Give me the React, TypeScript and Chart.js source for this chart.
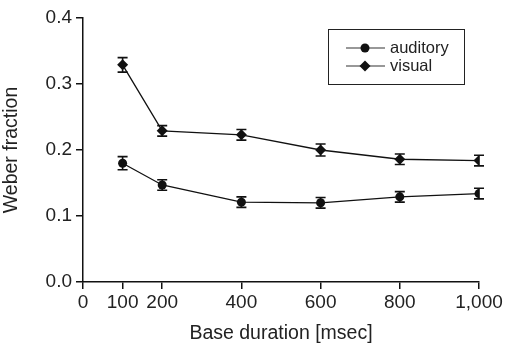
import React, { useEffect, useRef } from "react";
import { Chart, registerables } from "chart.js";

Chart.register(...registerables);

const durations = [100, 200, 400, 600, 800, 1000];
const auditory = [0.18, 0.147, 0.121, 0.12, 0.129, 0.134];
const auditoryErr = [0.01, 0.008, 0.008, 0.008, 0.008, 0.008];
const visual = [0.329, 0.229, 0.223, 0.2, 0.186, 0.184];
const visualErr = [0.011, 0.008, 0.008, 0.009, 0.008, 0.008];
const xTicks = [0, 100, 200, 400, 600, 800, 1000];
const seriesNames = ["auditory", "visual"];

const FONT = "'Liberation Sans', Arial, Helvetica, sans-serif";

const errorBarPlugin = {
  id: "errorBars",
  afterDatasetsDraw(chart: any) {
    const ctx = chart.ctx;
    const xs = chart.scales.x;
    const ys = chart.scales.y;
    const errs = [auditoryErr, visualErr];
    const vals = [auditory, visual];
    ctx.save();
    ctx.strokeStyle = "#111";
    ctx.lineWidth = 1.6;
    vals.forEach((arr, si) => {
      arr.forEach((v, i) => {
        const x = xs.getPixelForValue(durations[i]);
        const yt = ys.getPixelForValue(v + errs[si][i]);
        const yb = ys.getPixelForValue(v - errs[si][i]);
        ctx.beginPath();
        ctx.moveTo(x, yt);
        ctx.lineTo(x, yb);
        ctx.moveTo(x - 5, yt);
        ctx.lineTo(x + 5, yt);
        ctx.moveTo(x - 5, yb);
        ctx.lineTo(x + 5, yb);
        ctx.stroke();
      });
    });
    ctx.restore();
  },
};

const legendPlugin = {
  id: "boxLegend",
  afterDraw(chart: any) {
    const ctx = chart.ctx;
    ctx.save();
    ctx.strokeStyle = "#222";
    ctx.lineWidth = 1;
    ctx.strokeRect(328.5, 29.5, 136, 55);
    const rows = [48, 66];
    rows.forEach((y, i) => {
      ctx.strokeStyle = "#333";
      ctx.lineWidth = 1.2;
      ctx.beginPath();
      ctx.moveTo(346, y);
      ctx.lineTo(385, y);
      ctx.stroke();
      ctx.fillStyle = "#111";
      ctx.beginPath();
      if (i === 0) {
        ctx.arc(365, y, 4.5, 0, Math.PI * 2);
      } else {
        ctx.moveTo(365, y - 5.5);
        ctx.lineTo(370.5, y);
        ctx.lineTo(365, y + 5.5);
        ctx.lineTo(359.5, y);
        ctx.closePath();
      }
      ctx.fill();
      ctx.fillStyle = "#222";
      ctx.font = `16.5px ${FONT}`;
      ctx.textBaseline = "middle";
      ctx.textAlign = "left";
      ctx.fillText(seriesNames[i], 390, y);
    });
    ctx.restore();
  },
};

export default function App() {
  const ref = useRef<HTMLCanvasElement>(null);
  useEffect(() => {
    if (!ref.current) return;
    const chart = new Chart(ref.current, {
      type: "line",
      data: {
        datasets: [
          {
            label: seriesNames[0],
            data: durations.map((d, i) => ({ x: d, y: auditory[i] })),
            borderColor: "#111",
            backgroundColor: "#111",
            borderWidth: 1.3,
            pointStyle: "circle",
            pointRadius: 4.5,
            pointBorderWidth: 0,
            tension: 0,
          },
          {
            label: seriesNames[1],
            data: durations.map((d, i) => ({ x: d, y: visual[i] })),
            borderColor: "#111",
            backgroundColor: "#111",
            borderWidth: 1.3,
            pointStyle: "rectRot",
            pointRadius: 5.5,
            pointBorderWidth: 0,
            tension: 0,
          },
        ],
      },
      options: {
        animation: false,
        responsive: false,
        layout: { padding: { top: 18, right: 32, left: 0, bottom: 0 } },
        plugins: { legend: { display: false }, tooltip: { enabled: false } },
        scales: {
          x: {
            type: "linear",
            min: 0,
            max: 1000,
            afterBuildTicks: (s: any) => {
              s.ticks = xTicks.map((v) => ({ value: v }));
            },
            afterFit: (s: any) => {
              s.height = 63;
            },
            grid: { drawOnChartArea: false, drawTicks: true, tickLength: 7, color: "#111", lineWidth: 1.5 },
            border: { display: true, color: "#111", width: 1.5 },
            ticks: {
              autoSkip: false,
              maxRotation: 0,
              padding: 2,
              color: "#222",
              font: { family: FONT, size: 19 },
              callback: (v: any) => Number(v).toLocaleString("en-US"),
            },
            title: {
              display: true,
              text: "Base duration [msec]",
              color: "#222",
              font: { family: FONT, size: 19.5 },
              padding: { top: 2, bottom: 0 },
            },
          },
          y: {
            min: 0,
            max: 0.4,
            afterFit: (s: any) => {
              s.width = 83;
            },
            grid: { drawOnChartArea: false, drawTicks: true, tickLength: 7, color: "#111", lineWidth: 1.5 },
            border: { display: true, color: "#111", width: 1.5 },
            ticks: {
              stepSize: 0.1,
              padding: 4,
              color: "#222",
              font: { family: FONT, size: 19 },
              callback: (v: any) => Number(v).toFixed(1),
            },
            title: {
              display: true,
              text: "Weber fraction",
              color: "#222",
              font: { family: FONT, size: 19.5 },
              padding: { top: 0, bottom: 4 },
            },
          },
        },
      },
      plugins: [errorBarPlugin, legendPlugin],
    } as any);
    return () => chart.destroy();
  }, []);
  return (
    <div style={{ position: "fixed", left: 0, top: 0, width: 511, height: 345, background: "#fff" }}>
      <canvas ref={ref} width={511} height={345} style={{ width: 511, height: 345 }} />
    </div>
  );
}
